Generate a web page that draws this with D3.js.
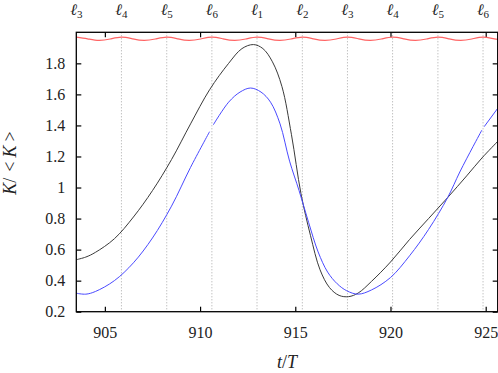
<!DOCTYPE html>
<html><head><meta charset="utf-8">
<script src="https://cdn.jsdelivr.net/npm/d3@7"></script>
<style>
body{margin:0;background:#fff}
svg{display:block;background:#fff}
</style>
</head><body>
<svg id="c" width="498" height="373"></svg>
<script>
// ---- data ----
const xTicks = [905, 910, 915, 920, 925];
const yTicks = [0.2, 0.4, 0.6, 0.8, 1.0, 1.2, 1.4, 1.6, 1.8];
const ellLabels = ["3","4","5","6","1","2","3","4","5","6"];
const ellPos = [903.50, 905.87, 908.25, 910.62, 912.99, 915.37, 917.74, 920.11, 922.49, 924.86];

const blackT = [903.5, 904.0, 904.5, 905.5, 906.5, 907.5, 908.5, 909.5, 910.5, 911.5, 912.2, 912.8, 913.3, 913.8, 914.3, 914.8, 915.3, 915.8, 916.3, 916.8, 917.3, 917.8, 918.3, 919.0, 920.0, 921.0, 922.0, 923.0, 924.0, 924.8, 925.63];
const blackK = [0.535, 0.552, 0.582, 0.670, 0.810, 0.980, 1.180, 1.410, 1.630, 1.800, 1.895, 1.921, 1.895, 1.810, 1.650, 1.340, 0.960, 0.690, 0.470, 0.355, 0.305, 0.297, 0.320, 0.395, 0.520, 0.665, 0.800, 0.935, 1.075, 1.190, 1.297];

const blueT = [903.5, 904.0, 904.5, 905.5, 906.5, 907.5, 908.5, 909.5, 910.5, 910.6, 910.7, 911.5, 912.1, 912.65, 913.2, 913.7, 914.2, 914.7, 915.2, 915.7, 916.2, 916.7, 917.2, 917.7, 918.3, 919.0, 920.0, 921.0, 922.0, 923.0, 923.64, 924.34, 924.8, 924.86, 924.92, 925.63];
const blueK = [0.319, 0.313, 0.330, 0.400, 0.515, 0.675, 0.880, 1.130, 1.360, null, 1.405, 1.550, 1.615, 1.641, 1.615, 1.550, 1.410, 1.170, 0.980, 0.775, 0.585, 0.455, 0.380, 0.335, 0.313, 0.340, 0.420, 0.560, 0.730, 0.935, 1.100, 1.265, 1.370, null, 1.392, 1.510];

const redT = [903.50, 904.09, 904.69, 905.28, 905.87, 906.47, 907.06, 907.65, 908.25, 908.84, 909.43, 910.03, 910.62, 911.21, 911.81, 912.40, 912.99, 913.59, 914.18, 914.77, 915.37, 915.96, 916.55, 917.15, 917.74, 918.33, 918.93, 919.52, 920.11, 920.71, 921.30, 921.89, 922.49, 923.08, 923.67, 924.27, 924.86, 925.45, 926.04];
const redK = [1.969, 1.958, 1.948, 1.957, 1.969, 1.958, 1.948, 1.957, 1.969, 1.958, 1.948, 1.957, 1.969, 1.958, 1.948, 1.957, 1.969, 1.958, 1.948, 1.957, 1.969, 1.958, 1.948, 1.957, 1.969, 1.958, 1.948, 1.957, 1.969, 1.958, 1.948, 1.957, 1.969, 1.958, 1.948, 1.957, 1.969, 1.958, 1.948];

// ---- layout ----
const FONT = "'Liberation Serif', 'DejaVu Serif', serif";
const L = 76.3, R = 497.7, T = 32.3, B = 311.7;
const svg = d3.select("#c");
const x = d3.scaleLinear().domain([903.5, 925.63]).range([L, R]);
const y = d3.scaleLinear().domain([0.2, 2.0]).range([B, T]);

svg.append("defs").append("clipPath").attr("id","clip")
  .append("rect").attr("x",L).attr("y",T).attr("width",R-L).attr("height",B-T);

// grid (dotted verticals at ell positions)
svg.append("g").selectAll("line").data(ellPos.slice(1)).join("line")
  .attr("x1", d => x(d)).attr("x2", d => x(d))
  .attr("y1", T).attr("y2", B)
  .attr("stroke", "#a8a8a8").attr("stroke-width", 1)
  .attr("stroke-dasharray", "1,2");

const fmt = d => String(+d.toFixed(1));

// axes
const gx = svg.append("g").attr("transform", `translate(0,${B})`)
  .call(d3.axisBottom(x).tickValues(xTicks).tickSize(-5).tickPadding(15).tickFormat(d3.format("d")));
const gxt = svg.append("g").attr("transform", `translate(0,${T})`)
  .call(d3.axisTop(x).tickValues(xTicks).tickSize(-5).tickFormat(""));
const gy = svg.append("g").attr("transform", `translate(${L},0)`)
  .call(d3.axisLeft(y).tickValues(yTicks).tickSize(-5).tickPadding(11).tickFormat(fmt));
const gyr = svg.append("g").attr("transform", `translate(${R},0)`)
  .call(d3.axisRight(y).tickValues(yTicks).tickSize(-5).tickFormat(""));
[gx, gxt, gy, gyr].forEach(g => {
  g.attr("font-family", null).attr("font-size", null);
  g.select(".domain").remove();
  g.selectAll(".tick line").attr("stroke", "#000").attr("stroke-width", 1.2);
  g.selectAll("text").style("font-family", FONT).style("font-size", "16px").attr("fill", "#222");
});

// lines
const line = d3.line().defined(d => d[1] !== null)
  .x(d => x(d[0])).y(d => y(d[1]));
const plot = svg.append("g").attr("clip-path", "url(#clip)");
plot.append("path").datum(redT.map((t,i) => [t, redK[i]]))
  .attr("d", line.curve(d3.curveNatural)).attr("fill","none").attr("stroke","#ff6464").attr("stroke-width",1.2);
line.curve(d3.curveCatmullRom.alpha(0.5));
plot.append("path").datum(blackT.map((t,i) => [t, blackK[i]]))
  .attr("d", line).attr("fill","none").attr("stroke","#3a3a3a").attr("stroke-width",1);
plot.append("path").datum(blueT.map((t,i) => [t, blueK[i]]))
  .attr("d", line).attr("fill","none").attr("stroke","#4a4aff").attr("stroke-width",1);

// border
svg.append("rect").attr("x",L).attr("y",T).attr("width",R-L).attr("height",B-T)
  .attr("fill","none").attr("stroke","#000").attr("stroke-width",1.3);

// top ell labels
const tl = svg.append("g").selectAll("text").data(ellPos).join("text")
  .attr("x", d => x(d)).attr("y", 15).attr("text-anchor","middle")
  .style("font-family", FONT).style("font-size", "16px").attr("fill", "#222");
tl.append("tspan").style("font-style","italic").text("ℓ");
tl.append("tspan").style("font-size", "11px").attr("dy", 3).text((d,i) => ellLabels[i]);

// axis titles
const xt = svg.append("text").attr("x", (L+R)/2).attr("y", 368).attr("text-anchor","middle")
  .style("font-family", FONT).style("font-size", "18px").attr("fill", "#222");
xt.append("tspan").style("font-style","italic").text("t");
xt.append("tspan").text("/");
xt.append("tspan").style("font-style","italic").text("T");

const yt = svg.append("text").attr("transform", "translate(16,163) rotate(-90)").attr("text-anchor","middle")
  .style("font-family", FONT).style("font-size", "18px").attr("fill", "#222");
yt.append("tspan").style("font-style","italic").text("K");
yt.append("tspan").text("/");
yt.append("tspan").attr("dx", 6).text("<");
yt.append("tspan").attr("dx", 4).style("font-style","italic").text("K");
yt.append("tspan").attr("dx", 4).text(">");
</script>
</body></html>
